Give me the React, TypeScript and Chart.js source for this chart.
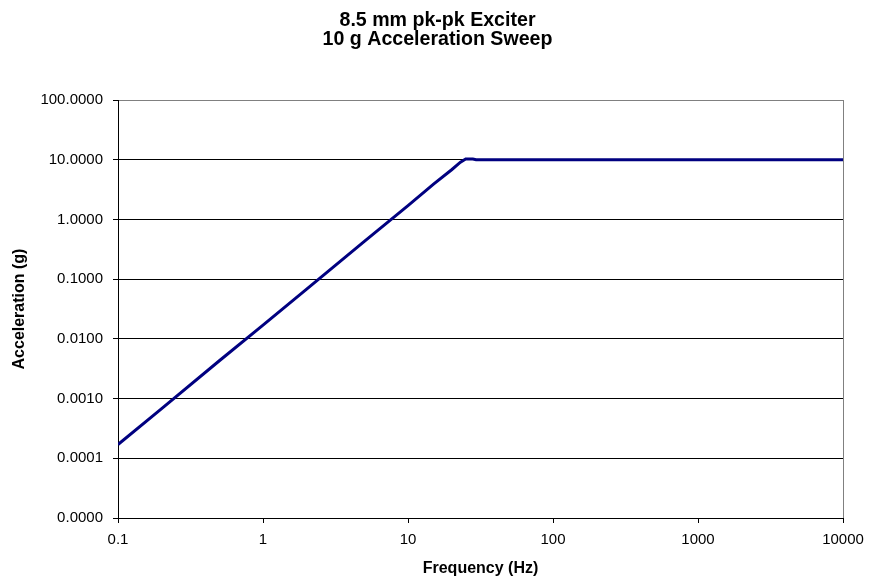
import React, { useEffect, useRef } from "react";
import { Chart, registerables } from "chart.js";

Chart.register(...registerables);

const TITLE_LINES = ["8.5 mm pk-pk Exciter", "10 g Acceleration Sweep"];
const X_TITLE = "Frequency (Hz)";
const Y_TITLE = "Acceleration (g)";

const frequencyHz = [0.1, 0.2, 0.5, 1, 2, 5, 10, 15, 20, 23, 25, 28, 29.5, 100, 1000, 10000];
const accelerationG = [0.00017, 0.00068, 0.0043, 0.017, 0.068, 0.43, 1.7, 3.9, 6.8, 9.1, 10.3, 10.3, 10, 10, 10, 10];

const xTickValues = [0.1, 1, 10, 100, 1000, 10000];
const xTickLabels = ["0.1", "1", "10", "100", "1000", "10000"];
const yTickValues = [0.00001, 0.0001, 0.001, 0.01, 0.1, 1, 10, 100];
const yTickLabels = ["0.0000", "0.0001", "0.0010", "0.0100", "0.1000", "1.0000", "10.0000", "100.0000"];

const FONT = "'Liberation Sans', Arial, sans-serif";

export default function App() {
  const ref = useRef<HTMLCanvasElement | null>(null);

  useEffect(() => {
    if (!ref.current) return;
    const chart = new Chart(ref.current, {
      type: "line",
      data: {
        datasets: [
          {
            data: frequencyHz.map((x, i) => ({ x, y: accelerationG[i] })),
            borderColor: "#000080",
            backgroundColor: "#000080",
            borderWidth: 3,
            pointRadius: 0,
            tension: 0,
            fill: false,
          },
        ],
      },
      options: {
        responsive: false,
        animation: false,
        devicePixelRatio: 1,
        layout: { padding: 0 },
        plugins: {
          legend: { display: false },
          tooltip: { enabled: false },
          title: {
            display: true,
            text: TITLE_LINES,
            color: "#000",
            font: { family: FONT, size: 19.6, weight: "bold", lineHeight: 0.97 },
            padding: { top: 11.4, bottom: 50.6 },
          },
        },
        scales: {
          x: {
            type: "logarithmic",
            min: 0.1,
            max: 10000,
            afterBuildTicks: (s: any) => {
              s.ticks = xTickValues.map((v) => ({ value: v }));
            },
            afterFit: (s: any) => {
              s.height = 67;
              s.paddingLeft = 0;
              s.paddingRight = 0;
            },
            ticks: {
              callback: (_v: any, i: number) => xTickLabels[i],
              color: "#000",
              font: { family: FONT, size: 15 },
              padding: 8,
              maxRotation: 0,
              autoSkip: false,
            },
            grid: {
              color: (ctx: any) =>
                ctx.tick && ctx.tick.value === 10000 ? "#808080" : "rgba(0,0,0,0)",
              tickColor: "#000",
              tickLength: 5,
              lineWidth: 1,
            },
            border: { color: "#000", width: 1 },
            title: {
              display: true,
              text: X_TITLE,
              color: "#000",
              font: { family: FONT, size: 16, weight: "bold", lineHeight: 1.2 },
              padding: { top: 0, bottom: 7 },
            },
          },
          y: {
            type: "logarithmic",
            min: 0.00001,
            max: 100,
            afterBuildTicks: (s: any) => {
              s.ticks = yTickValues.map((v) => ({ value: v }));
            },
            afterFit: (s: any) => {
              s.width = 118;
              s.paddingTop = 0;
              s.paddingBottom = 0;
            },
            ticks: {
              callback: (_v: any, i: number) => yTickLabels[i],
              color: "#000",
              font: { family: FONT, size: 15 },
              padding: 10,
              autoSkip: false,
            },
            grid: {
              color: (ctx: any) =>
                ctx.tick && ctx.tick.value === 100 ? "#808080" : "#000",
              tickColor: "#000",
              tickLength: 5,
              lineWidth: 1,
            },
            border: { color: "#000", width: 1 },
            title: {
              display: true,
              text: Y_TITLE,
              color: "#000",
              font: { family: FONT, size: 16, weight: "bold", lineHeight: 1.2 },
              padding: { top: 10, bottom: 0 },
            },
          },
          rightSpacer: {
            type: "linear",
            position: "right",
            display: true,
            ticks: { display: false },
            grid: { display: false, drawTicks: false },
            border: { display: false },
            afterFit: (s: any) => {
              s.width = 32;
              s.paddingTop = 0;
              s.paddingBottom = 0;
            },
          },
        },
      },
    } as any);
    return () => chart.destroy();
  }, []);

  return (
    <div style={{ position: "absolute", left: 0, top: 0, width: 875, height: 585, background: "#fff" }}>
      <canvas ref={ref} width={875} height={585} style={{ width: 875, height: 585, display: "block" }} />
    </div>
  );
}
